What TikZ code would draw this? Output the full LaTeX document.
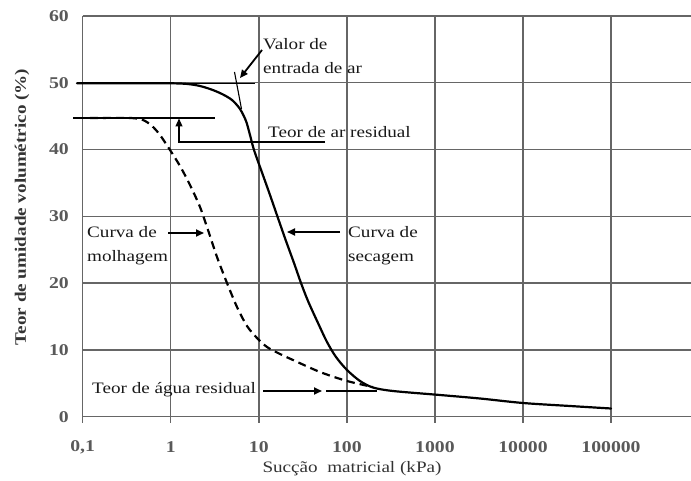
\documentclass[tikz,border=0pt]{standalone}
\usepackage{fontspec}
\setmainfont{Liberation Serif}
\usepackage{graphicx}
\usetikzlibrary{arrows.meta}
\newcommand{\stx}[1]{\scalebox{1.2}[1]{#1}}
\begin{document}
\begin{tikzpicture}[x=1bp,y=-1bp,
  grid/.style={draw=black!60, line width=1.4bp},
  drying/.style={draw=black, line width=2.2bp, line join=round, line cap=round},
  wetting/.style={draw=black, line width=2.2bp, dash pattern=on 8bp off 5bp},
  thinline/.style={draw=black, line width=1.1bp},
  callout/.style={draw=black, line width=1.8bp, -{Triangle[length=8bp,width=7bp]}},
  thincallout/.style={draw=black, line width=1.2bp, -{Triangle[length=8bp,width=7bp]}},
  lbl/.style={inner sep=0pt, anchor=west, font=\fontsize{16}{24}\selectfont, text=black!90},
  tick/.style={inner sep=0pt, font=\fontsize{16}{19}\selectfont, text=black!80},
  ticknum/.style={inner sep=0pt, font=\fontsize{16.5}{19}\selectfont\bfseries, text=black!65},
]
\useasboundingbox (0,0) rectangle (691,481);
\fill[white] (0,0) rectangle (691,481);
% grid
\foreach \yy in {16,82.8,149.5,216.3,283,349.9,416.7} \draw[grid] (82.7,\yy) -- (691,\yy);
\foreach \xx in {82.7,170.75,258.8,346.85,434.9,522.95,611} \draw[grid] (\xx,16) -- (\xx,423);
% tick labels
\foreach \yy/\v in {16/60,82.8/50,149.5/40,216.3/30,283/20,349.9/10,416.7/0}
  \node[ticknum, anchor=east] (yl\v) at (69,\yy) {\stx{\v}};
\foreach \xx/\t/\n in {82.7/{0,1}/a,170.75/1/b,258.8/10/c,346.85/100/d,434.9/1000/e,522.95/10000/f,611/100000/g}
  \node[ticknum] (xl\n) at (\xx,447) {\stx{\t}};
% axis titles
\node[tick] (xtitle) at (352,469) {\stx{Sucção\ \ matricial (kPa)}};
\node[tick, rotate=90, font=\fontsize{16}{19}\selectfont\bfseries] (ytitle) at (22,207) {\stx{Teor de umidade volumétrico (\%)}};
% asymptotes and tangent
\draw[thinline] (77,83.3) -- (255,83.3);
\draw[thinline] (73,118) -- (215,118);
\draw[thinline] (234.5,72) -- (241.5,109);
% curves
\draw[drying] plot[smooth, tension=0.5] coordinates {
 (77,83.3) (171,83.3) (195,85) (210,89) (222,94) (232,100) (240,109) (246,121)
 (250,135) (254,150) (262,172.5) (270,195) (279,221) (286,241) (294,263) (301,283)
 (308,301) (318,323) (327,342) (336,357) (347,370) (360,381) (373,387.5) (393,391) (440,395)
 (480,398.5) (523,403) (570,406) (611,408.5)};
\draw[wetting] plot[smooth, tension=0.5] coordinates {
 (90,118) (130,118) (143,120) (152,126) (160,135) (170,150) (180,166) (190,185)
 (200,207) (208,230) (217,257) (227,283) (237,307) (247,326) (257,338) (267,347)
 (280,354) (293,360) (320,372) (347,381) (373,387)};
% annotations
\node[lbl] (valor) at (263,56.5) {\stx{\begin{tabular}{@{}l@{}}Valor de\\entrada de ar\end{tabular}}};
\coordinate (valorA) at (262,50);
\coordinate (valorB) at (240,78);
\draw[callout] (valorA) -- (valorB);

\node[lbl] (arres) at (268,132) {\stx{Teor de ar residual}};
\coordinate (arA) at (325,142);
\coordinate (arC) at (179,142);
\coordinate (arB) at (179,118.5);
\draw[thincallout] (arA) -- (arC) -- (arB);

\node[lbl] (molh) at (87,245) {\stx{\begin{tabular}{@{}l@{}}Curva de\\molhagem\end{tabular}}};
\coordinate (molhA) at (168,233);
\coordinate (molhB) at (204,233);
\draw[callout] (molhA) -- (molhB);

\node[lbl] (sec) at (348,245) {\stx{\begin{tabular}{@{}l@{}}Curva de\\secagem\end{tabular}}};
\coordinate (secA) at (340,232);
\coordinate (secB) at (287,232);
\draw[callout] (secA) -- (secB);

\node[lbl] (agua) at (92,390) {\stx{Teor de água residual}};
\coordinate (aguaA) at (263,391);
\coordinate (aguaB) at (322,391);
\coordinate (aguaC) at (326,391);
\coordinate (aguaD) at (377,391);
\draw[callout] (aguaA) -- (aguaB);
\draw[thinline] (aguaC) -- (aguaD);
\end{tikzpicture}
\end{document}
